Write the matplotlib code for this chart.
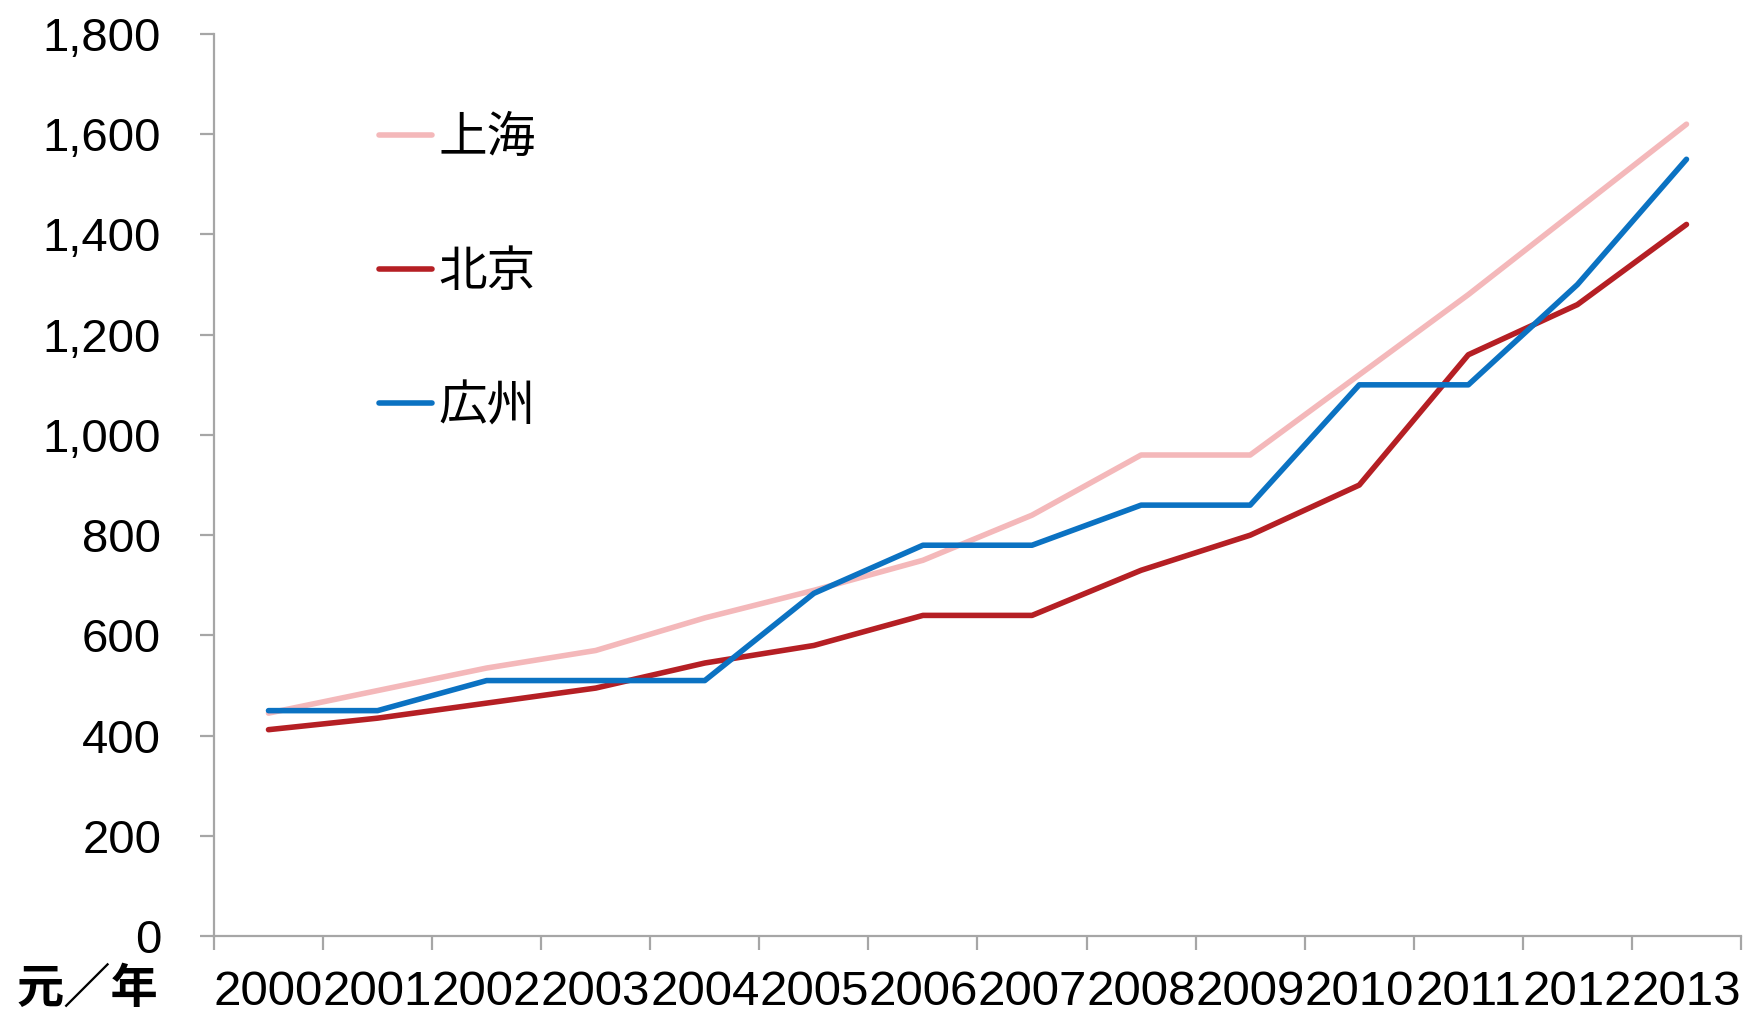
import numpy as np
import matplotlib
matplotlib.use("Agg")
import matplotlib.pyplot as plt
from matplotlib.ticker import FuncFormatter, FixedLocator

plt.rcParams['font.family'] = ['Liberation Sans', 'Noto Sans CJK JP', 'DejaVu Sans']

# 最低工資 (元/月)
years = ['2000', '2001', '2002', '2003', '2004', '2005', '2006',
         '2007', '2008', '2009', '2010', '2011', '2012', '2013']
shanghai = [445, 490, 535, 570, 635, 690, 750, 840, 960, 960, 1120, 1280, 1450, 1620]
beijing = [412, 435, 465, 495, 545, 580, 640, 640, 730, 800, 900, 1160, 1260, 1420]
guangzhou = [450, 450, 510, 510, 510, 684, 780, 780, 860, 860, 1100, 1100, 1300, 1550]

fig = plt.figure(figsize=(17.48, 10.11), dpi=100)
ax = fig.add_axes([0.1224, 0.074, 0.8736, 0.8924])

x = np.arange(len(years))
ax.plot(x, shanghai, color='#F4B8BA', lw=4, label='上海', solid_capstyle='round')
ax.plot(x, beijing, color='#B51F24', lw=4, label='北京', solid_capstyle='round')
ax.plot(x, guangzhou, color='#0B72C2', lw=4, label='広州', solid_capstyle='round')

ax.set_xlim(-0.5, len(years) - 0.5)
ax.set_ylim(0, 1800)
ax.set_yticks(range(0, 1801, 200))
ax.yaxis.set_major_formatter(FuncFormatter(lambda v, p: f'{int(v):,}'))

# ticks between categories, labels at centres
ax.xaxis.set_major_locator(FixedLocator(np.arange(-0.5, len(years), 1.0)))
ax.xaxis.set_minor_locator(FixedLocator(x))
ax.set_xticklabels([])
ax.set_xticklabels(years, minor=True)

for s in ['top', 'right']:
    ax.spines[s].set_visible(False)
for s in ['left', 'bottom']:
    ax.spines[s].set_color('#A6A6A6')
    ax.spines[s].set_linewidth(1.6)

ax.tick_params(axis='y', length=10, width=1.6, color='#A6A6A6', labelsize=34, pad=28)
ax.tick_params(axis='x', which='major', length=10, width=1.6, color='#A6A6A6')
ax.tick_params(axis='x', which='minor', length=0, labelsize=35.5, pad=24)

leg = ax.legend(loc='upper left', bbox_to_anchor=(0.108, 0.908), frameon=False,
                fontsize=35, handlelength=1.1, handletextpad=0.12,
                labelspacing=1.83, borderpad=0, borderaxespad=0)

fig.text(0.0097, 0.0208, '元／年', fontsize=34, fontweight='bold', va='center', ha='left')

fig.savefig('out.png', dpi=100)
